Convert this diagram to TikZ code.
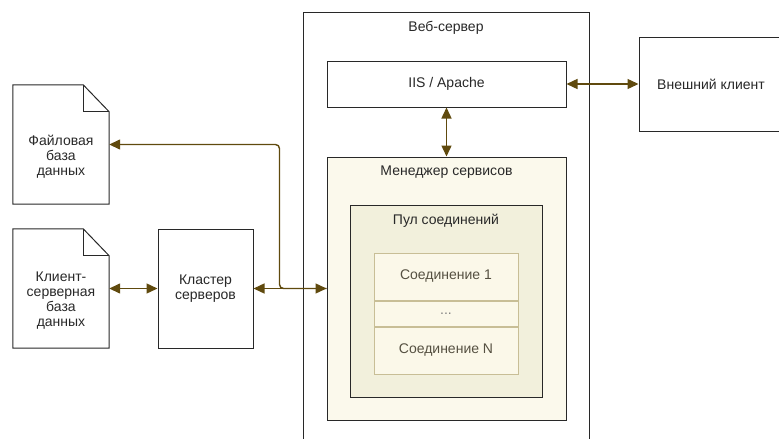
\documentclass[tikz,border=0pt]{standalone}
\usepackage{fontspec}
\setmainfont{Liberation Sans}
\usetikzlibrary{arrows.meta,positioning}
\definecolor{arrbrown}{RGB}{96,74,14}
\definecolor{boxgray}{RGB}{40,40,40}
\definecolor{mgrcream}{RGB}{251,249,236}
\definecolor{poolcream}{RGB}{242,240,220}
\definecolor{conncream}{RGB}{251,248,233}
\definecolor{conntan}{RGB}{200,190,150}
\definecolor{txtgray}{RGB}{40,40,40}
\definecolor{conntext}{RGB}{85,80,65}

\begin{document}
\begin{tikzpicture}[
  x=1pt, y=-1pt,
  every node/.style={font=\fontsize{14}{15}\selectfont, text=txtgray},
  box/.style={rectangle, draw=boxgray, fill=white, line width=1pt, align=center, inner sep=0pt},
  docbox/.style={rectangle, minimum width=96pt, minimum height=119pt, inner sep=0pt},
  doctext/.style={align=center, yshift=-12.5pt},
  hdr/.style={anchor=north, yshift=-6pt},
  conn/.style={rectangle, draw=conntan, fill=conncream, line width=1pt, minimum width=144pt, inner sep=0pt, text=conntext},
  arr/.style={{Triangle[length=11pt,width=10pt]}-{Triangle[length=11pt,width=10pt]}, line width=1.4pt, arrbrown}
]
\useasboundingbox (0,0) rectangle (779,439);
\clip (0,0) rectangle (779,439);

% web server and its parts
\node[box, minimum width=286pt, minimum height=460pt, label={[hdr]north:Веб-сервер}] (web) at (446,242) {};
\node[box, minimum width=239pt, minimum height=46pt] (iis) at (446.5,84) {IIS / Apache};
\node[box, fill=mgrcream, minimum width=239pt, minimum height=263pt, label={[hdr]north:Менеджер сервисов}] (mgr) at (446.5,288.5) {};
\node[box, fill=poolcream, minimum width=192pt, minimum height=192pt, label={[hdr]north:Пул соединений}] (pool) at (446,301) {};
\node[conn, minimum height=47pt] (c1) at (446,276.5) {Соединение 1};
\node[conn, minimum height=25pt, below=0pt of c1, text=gray] (cdots) {...};
\node[conn, minimum height=47pt, below=0pt of cdots] (cN) {Соединение N};

\node[box, minimum width=144pt, minimum height=94pt] (ext) at (711,84) {Внешний клиент};

% databases and cluster
\node[docbox, label={[doctext]center:Файловая\\база\\данных}] (fdb) at (61,144.5) {};
\node[docbox, label={[doctext]center:Клиент-\\серверная\\база\\данных}] (cdb) at (61,288.5) {};
\node[box, minimum width=95pt, minimum height=119pt] (clu) at (205.5,288.5) {Кластер\\серверов};

\foreach \d in {fdb,cdb}{
  \draw[line width=1pt, boxgray] (\d.north west) -- ([xshift=-26pt]\d.north east) -- ([yshift=-27pt]\d.north east) -- (\d.south east) -- (\d.south west) -- cycle;
  \draw[line width=1pt, boxgray] ([xshift=-26pt]\d.north east) |- ([yshift=-27pt]\d.north east);
}

\draw[arr] (cdb.east) -- (clu.west);
\draw[arr] (clu.east) -- (mgr.west);
\draw[arr, -{Triangle[length=11pt,width=10pt]}, rounded corners=4pt] (mgr.west) -- ++(-47,0) |- (fdb.east);
\draw[arr] (iis.east) -- (ext.west);
\draw[arr] (iis.south) -- (mgr.north);
\end{tikzpicture}
\end{document}
